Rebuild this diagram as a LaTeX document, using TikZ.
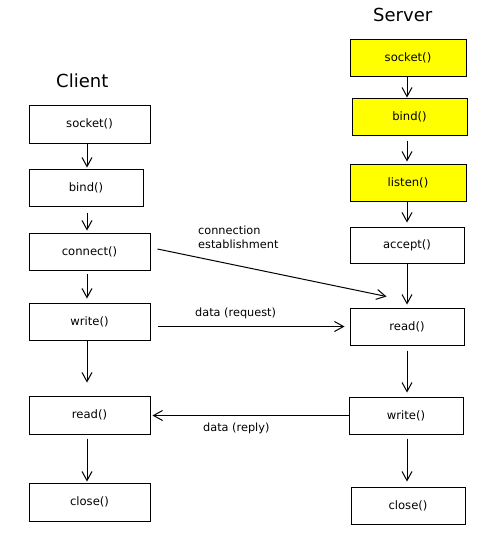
\documentclass[tikz,border=0pt]{standalone}
\usepackage{fontspec}
\setmainfont{DejaVu Sans}
\usetikzlibrary{arrows.meta}
\definecolor{boxyellow}{RGB}{255,255,0}
\begin{document}
\begin{tikzpicture}[x=1pt,y=-1pt,
  fbox/.style={draw=black,line width=1pt,inner sep=0pt,minimum width=121pt,minimum height=37pt,font=\fontsize{11.6}{13}\selectfont},
  ybox/.style={fbox,fill=boxyellow},
  arr/.style={line width=1pt,-{Straight Barb[length=9pt,width=10pt,line width=1pt]}},
  lbl/.style={inner sep=0pt,anchor=base west,font=\fontsize{11.3}{13}\selectfont},
  ttl/.style={inner sep=0pt,anchor=base west,font=\fontsize{18}{20}\selectfont}]
\useasboundingbox[fill=white] (0,0) rectangle (489,546);
\coordinate (cx) at (87,0);
\coordinate (sx) at (407,0);
% titles
\node[ttl] (tclient) at (56,87) {Client};
\node[ttl] (tserver) at (373,21) {Server};
% client boxes
\node[fbox,minimum height=38pt] (csocket) at (89.5,124) {socket()};
\node[fbox,minimum width=114pt] (cbind) at (86,187.5) {bind()};
\node[fbox] (cconnect) at (89.5,251.5) {connect()};
\node[fbox] (cwrite) at (89.5,321.5) {write()};
\node[fbox,minimum height=38pt] (cread) at (89.5,415) {read()};
\node[fbox,minimum height=38pt] (cclose) at (89.5,502) {close()};
% server boxes
\node[ybox,minimum width=116pt] (ssocket) at (408,57.5) {socket()};
\node[ybox,minimum width=115pt] (sbind) at (409.5,116.5) {bind()};
\node[ybox,minimum width=116pt] (slisten) at (408,182.5) {listen()};
\node[fbox,minimum width=114pt,minimum height=36pt] (saccept) at (407,245) {accept()};
\node[fbox,minimum width=114pt] (sread) at (407,326.5) {read()};
\node[fbox,minimum width=114pt] (swrite) at (406,415.5) {write()};
\node[fbox,minimum width=114pt] (sclose) at (408,505.5) {close()};
% client arrows
\draw[arr,shorten >=1pt] (csocket.south -| cx) -- (cbind.north -| cx);
\draw[arr,shorten <=6pt,shorten >=2pt] (cbind.south -| cx) -- (cconnect.north -| cx);
\draw[arr,shorten <=3pt,shorten >=4pt] (cconnect.south -| cx) -- (cwrite.north -| cx);
\draw[arr,shorten >=13pt] (cwrite.south -| cx) -- (cread.north -| cx);
\draw[arr,shorten <=4pt,shorten >=1pt] (cread.south -| cx) -- (cclose.north -| cx);
% server arrows
\draw[arr,shorten >=0pt] (ssocket.south -| sx) -- (sbind.north -| sx);
\draw[arr,shorten <=5pt,shorten >=2pt] (sbind.south -| sx) -- (slisten.north -| sx);
\draw[arr,shorten >=4pt] (slisten.south -| sx) -- (saccept.north -| sx);
\draw[arr,shorten >=3pt] (saccept.south -| sx) -- (sread.north -| sx);
\draw[arr,shorten <=5pt,shorten >=4pt] (sread.south -| sx) -- (swrite.north -| sx);
\draw[arr,shorten <=4pt,shorten >=5pt] (swrite.south -| sx) -- (sclose.north -| sx);
% horizontal connectors
\draw[arr] ([xshift=7pt,yshift=2.5pt]cconnect.east) -- ([xshift=37pt,yshift=11pt]sread.north west);
\draw[arr,shorten <=7pt,shorten >=5pt] (cwrite.east |- sread.west) -- (sread.west);
\draw[arr,shorten >=2pt] (swrite.west) -- (swrite.west -| cread.east);
% labels
\node[lbl] (lconn1) at (198,234) {connection};
\node[lbl] (lconn2) at (198,248) {establishment};
\node[lbl] (lreq) at (195,316) {data (request)};
\node[lbl] (lrep) at (203,431) {data (reply)};
\end{tikzpicture}
\end{document}
